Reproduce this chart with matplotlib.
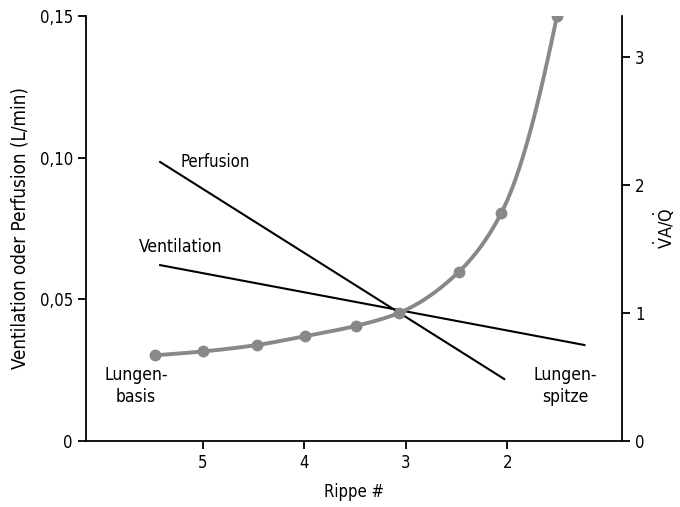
import numpy as np
import matplotlib
matplotlib.use("Agg")
import matplotlib.pyplot as plt

plt.rcParams['font.family'] = ['DejaVu Sans']
plt.rcParams['font.stretch'] = 'condensed'
plt.rcParams['mathtext.fontset'] = 'dejavusans'

# Data
rib_points = [5.47, 5.0, 4.47, 3.99, 3.49, 3.07, 2.48, 2.06, 1.51]
va_q = [0.67, 0.70, 0.75, 0.82, 0.90, 1.0, 1.32, 1.78, 3.32]
perf_x = [5.42, 2.03]
perf_y = [0.0985, 0.0219]
vent_x = [5.42, 1.24]
vent_y = [0.0621, 0.0339]
x_ticks = [5, 4, 3, 2]
left_ticks = [0, 0.05, 0.10, 0.15]
left_labels = ['0', '0,05', '0,10', '0,15']
right_ticks = [0, 1, 2, 3]

def pchip(x, y, xn):
    x = np.asarray(x, float); y = np.asarray(y, float)
    h = np.diff(x); d = np.diff(y) / h
    m = np.zeros_like(y)
    for k in range(1, len(x) - 1):
        if d[k-1] * d[k] > 0:
            w1 = 2*h[k] + h[k-1]; w2 = h[k] + 2*h[k-1]
            m[k] = (w1 + w2) / (w1/d[k-1] + w2/d[k])
    m[0] = d[0]; m[-1] = d[-1]
    idx = np.clip(np.searchsorted(x, xn) - 1, 0, len(x) - 2)
    t = (xn - x[idx]) / h[idx]
    h00 = 2*t**3 - 3*t**2 + 1; h10 = t**3 - 2*t**2 + t
    h01 = -2*t**3 + 3*t**2; h11 = t**3 - t**2
    return h00*y[idx] + h10*h[idx]*m[idx] + h01*y[idx+1] + h11*h[idx]*m[idx+1]

fig = plt.figure(figsize=(6.8, 5.07), dpi=100)
ax = fig.add_axes([0.1265, 0.130, 0.7882, 0.8384])
ax.set_xlim(6.15, 0.87)
ax.set_ylim(0, 0.15)
ax.spines['top'].set_visible(False)
ax.spines['right'].set_visible(False)
for s in ['left', 'bottom']:
    ax.spines[s].set_linewidth(1.3)
ax.set_xticks(x_ticks)
ax.set_xticklabels([str(v) for v in x_ticks])
ax.set_yticks(left_ticks)
ax.set_yticklabels(left_labels)
ax.tick_params(direction='out', length=6, width=1.3, labelsize=12)
ax.set_xlabel('Rippe #', fontsize=12, labelpad=8)
ax.set_ylabel('Ventilation oder Perfusion (L/min)', fontsize=13.5, labelpad=7)

ax.plot(perf_x, perf_y, color='black', lw=1.5, zorder=3)
ax.plot(vent_x, vent_y, color='black', lw=1.5, zorder=3)

ax2 = ax.twinx()
ax2.set_ylim(0, 3.32)
ax2.set_xlim(6.15, 0.87)
for s in ['top', 'left', 'bottom']:
    ax2.spines[s].set_visible(False)
ax2.spines['right'].set_linewidth(1.3)
ax2.set_yticks(right_ticks)
ax2.set_yticklabels([str(v) for v in right_ticks])
ax2.tick_params(direction='out', length=6, width=1.3, labelsize=12)
ax2.set_ylabel(r'$\dot{\mathrm{V}}\mathrm{A}/\dot{\mathrm{Q}}$', fontsize=13, labelpad=5)

xr = np.array(rib_points[::-1]); yr = np.log(np.array(va_q[::-1]))
xn = np.linspace(xr[0], xr[-1], 300)
ax2.plot(xn, np.exp(pchip(xr, yr, xn)), color='#888888', lw=2.8, zorder=2,
         solid_capstyle='round')
ax2.plot(rib_points, va_q, 'o', color='#888888', ms=7.5, zorder=2)

ax.text(5.22, 0.0985, 'Perfusion', fontsize=12, ha='left', va='center')
ax.text(5.22, 0.0685, 'Ventilation', fontsize=12.5, ha='center', va='center')
ax.text(5.66, 0.0195, 'Lungen-\nbasis', fontsize=12.5, ha='center', va='center', linespacing=1.25)
ax.text(1.43, 0.0195, 'Lungen-\nspitze', fontsize=12.5, ha='center', va='center', linespacing=1.25)

fig.savefig('out.png', dpi=100)
